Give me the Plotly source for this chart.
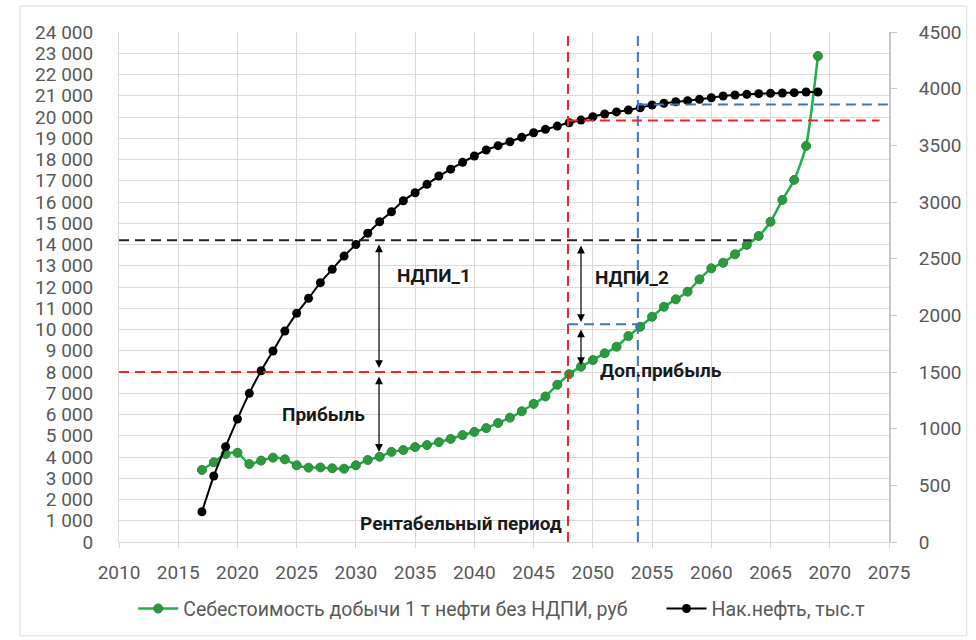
import plotly.graph_objects as go

years = list(range(2017, 2070))

cost_rub = [3390, 3750, 4140, 4200, 3670, 3830, 3970, 3890, 3610, 3500,
            3510, 3470, 3450, 3610, 3860, 4010, 4240, 4330, 4470, 4560,
            4700, 4850, 5030, 5180, 5360, 5600, 5850, 6150, 6500, 6850,
            7400, 7900, 8250, 8560, 8880, 9190, 9690, 10130, 10600, 11070,
            11420, 11780, 12360, 12880, 13140, 13540, 13980, 14400, 15070, 16100,
            17040, 18640, 22870]

cum_oil = [267, 582, 841, 1085, 1312, 1511, 1685, 1862, 2018, 2150,
           2288, 2406, 2523, 2625, 2724, 2826, 2914, 3011, 3082, 3156,
           3229, 3290, 3350, 3406, 3459, 3497, 3532, 3571, 3611, 3641,
           3670, 3699, 3723, 3752, 3776, 3795, 3812, 3832, 3856, 3871,
           3885, 3894, 3906, 3920, 3935, 3944, 3950, 3956, 3959, 3962,
           3965, 3971, 3971]

netback_price = 14200
cost_threshold = 8000
year_breakeven = 2047.9
year_new = 2053.8
cost_new = 10250
oil_breakeven = 3720
oil_new = 3860
year_netback_end = 2063.4
year_red_end = 2074.2
year_arrow_1 = 2031.95
year_arrow_2 = 2049.0

name_cost = "Себестоимость добычи 1 т нефти без НДПИ, руб"
name_oil = "Нак.нефть, тыс.т"

FONT = "Roboto"
TICK_COLOR = "#595959"
GRID = "#d9d9d9"

fig = go.Figure()

fig.add_trace(go.Scatter(
    x=years, y=cost_rub, name=name_cost + "\u00a0" * 6, mode="lines+markers",
    line=dict(color="#1fb04c", width=2.5, shape="spline", smoothing=0.6),
    marker=dict(color="#2a9a3c", size=9, line=dict(color="#2a8a38", width=1)),
    yaxis="y"))

fig.add_trace(go.Scatter(
    x=years, y=cum_oil, name=name_oil, mode="lines+markers",
    line=dict(color="#000000", width=2, shape="spline", smoothing=0.6),
    marker=dict(color="#000000", size=9),
    yaxis="y2"))

dash = "10px,6px"
shapes = [
    dict(type="line", xref="x", yref="y", x0=2010, x1=year_netback_end,
         y0=netback_price, y1=netback_price, line=dict(color="#222222", width=2, dash=dash)),
    dict(type="line", xref="x", yref="y", x0=2010, x1=year_breakeven,
         y0=cost_threshold, y1=cost_threshold, line=dict(color="#ff2020", width=2, dash=dash)),
    dict(type="line", xref="x", yref="y", x0=year_breakeven, x1=year_breakeven,
         y0=0, y1=24000, line=dict(color="#ff2020", width=2, dash=dash)),
    dict(type="line", xref="x", yref="y", x0=year_new, x1=year_new,
         y0=0, y1=24000, line=dict(color="#4472c4", width=2, dash=dash)),
    dict(type="line", xref="x", yref="y", x0=year_breakeven, x1=year_new,
         y0=cost_new, y1=cost_new, line=dict(color="#4472c4", width=2, dash=dash)),
    dict(type="line", xref="x", yref="y2", x0=year_breakeven, x1=year_red_end,
         y0=oil_breakeven, y1=oil_breakeven, line=dict(color="#ff2020", width=2, dash=dash)),
    dict(type="line", xref="x", yref="y2", x0=year_new, x1=2075,
         y0=oil_new, y1=oil_new, line=dict(color="#4472c4", width=2, dash=dash)),
    dict(type="rect", xref="paper", yref="paper", x0=-0.1286, x1=1.101,
         y0=-0.184, y1=1.051, line=dict(color="#d9d9d9", width=1), layer="below"),
]

def arrow(x, y0, y1):
    return dict(x=x, y=y1, ax=x, ay=y0, xref="x", yref="y", axref="x", ayref="y",
                text="", showarrow=True, arrowhead=2, startarrowhead=2,
                arrowside="end+start", arrowsize=1.3, arrowwidth=1.2,
                arrowcolor="#000000", standoff=0, startstandoff=0)

lab_font = dict(family=FONT, size=19, color="#1a1a1a")
annotations = [
    arrow(year_arrow_1, 14070, 8190),
    arrow(year_arrow_1, 7860, 4240),
    arrow(year_arrow_2, 14020, 10350),
    arrow(year_arrow_2, 10070, 8330),
    dict(x=2009.95, y=14920, xref="x", yref="y", text="<b>Цена 1 т нефти нетбэк</b>",
         showarrow=False, xanchor="left", yanchor="middle", font=lab_font),
    dict(x=2033.3, y=12520, xref="x", yref="y", text="<b>НДПИ_1</b>",
         showarrow=False, xanchor="left", yanchor="middle", font=lab_font),
    dict(x=2027.3, y=6020, xref="x", yref="y", text="<b>Прибыль</b>",
         showarrow=False, xanchor="center", yanchor="middle", font=lab_font),
    dict(x=2050.0, y=12470, xref="x", yref="y", text="<b>НДПИ_2</b>",
         showarrow=False, xanchor="left", yanchor="middle", font=lab_font),
    dict(x=2050.4, y=8090, xref="x", yref="y", text="<b>Доп.прибыль</b>",
         showarrow=False, xanchor="left", yanchor="middle", font=lab_font),
    dict(x=2047.6, y=890, xref="x", yref="y", text="<b>Рентабельный период</b>",
         showarrow=False, xanchor="right", yanchor="middle", font=lab_font),
]

tickfont = dict(family=FONT, size=19, color=TICK_COLOR)

fig.update_layout(
    width=976, height=640,
    margin=dict(l=119, r=87, t=32, b=98),
    paper_bgcolor="white", plot_bgcolor="white",
    separators=", ",
    font=dict(family=FONT, color=TICK_COLOR),
    showlegend=True,
    legend=dict(orientation="h", x=0.497, xanchor="center", y=-0.131, yanchor="middle",
                font=dict(family=FONT, size=19.5, color=TICK_COLOR), itemwidth=40,
                traceorder="normal"),
    xaxis=dict(range=[2010, 2075], tick0=2010, dtick=5, tickformat="d",
               showgrid=True, gridcolor=GRID, gridwidth=1,
               showline=True, linecolor=GRID, linewidth=1,
               ticks="outside", ticklen=5, tickcolor=GRID,
               tickfont=tickfont, ticklabelstandoff=8, zeroline=False),
    yaxis=dict(range=[0, 24000], dtick=1000, tickformat=",d",
               showgrid=True, gridcolor=GRID, gridwidth=1,
               showline=True, linecolor=GRID, linewidth=1,
               tickfont=tickfont, ticklabelstandoff=21, zeroline=False),
    yaxis2=dict(range=[0, 4500], dtick=500, tickformat="d", overlaying="y", side="right",
                showgrid=False, showline=True, linecolor="#c8c8c8", linewidth=2,
                ticks="outside", ticklen=6, tickcolor="#c8c8c8",
                tickfont=tickfont, ticklabelstandoff=18, zeroline=False),
    shapes=shapes,
    annotations=annotations,
)

fig.write_html("out.html", config={"displayModeBar": False},
               post_script="document.body.style.margin='0px';")
